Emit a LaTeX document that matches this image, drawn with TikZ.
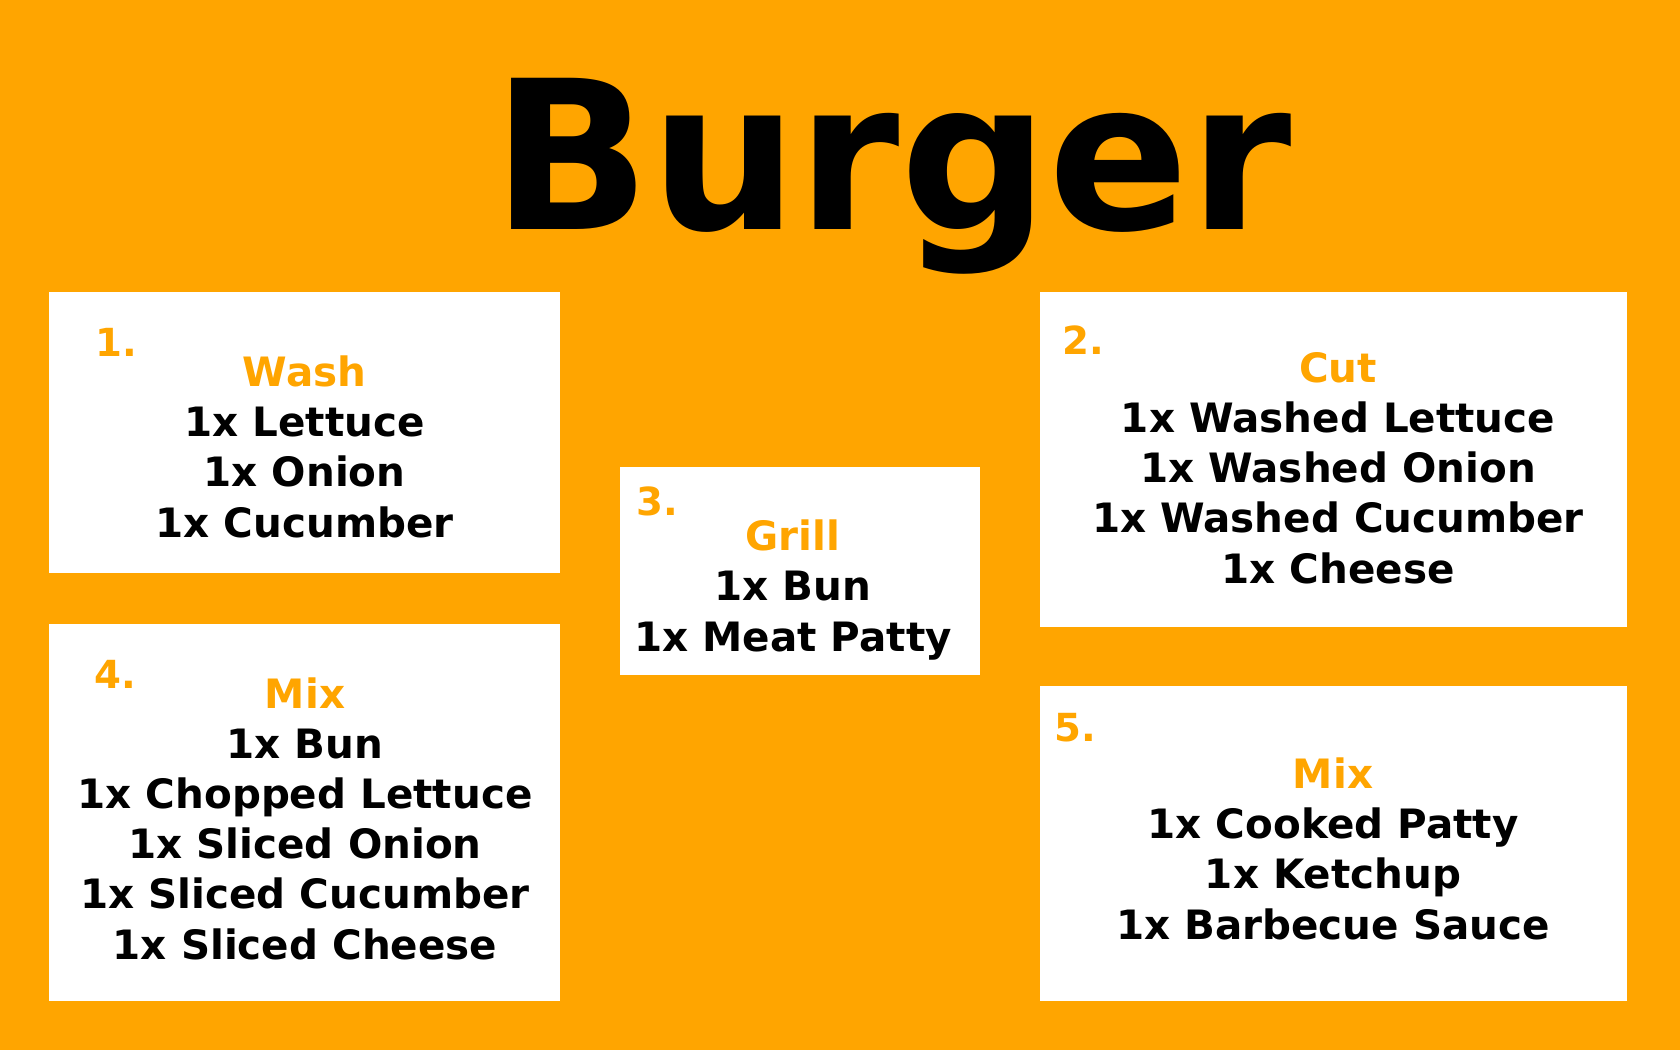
\documentclass[tikz,border=0pt]{standalone}
\usepackage{fontspec}
\setmainfont{DejaVu Sans}
\usetikzlibrary{positioning}
\definecolor{burgerorange}{RGB}{255,165,0}

\begin{document}
\begin{tikzpicture}[x=0.01cm, y=-0.01cm,
  card/.style={rectangle, fill=white, inner sep=0pt},
  num/.style={anchor=base west, inner sep=0pt, text=burgerorange,
    font=\bfseries\fontsize{11}{13}\selectfont},
  recipe/.style={anchor=base, inner sep=0pt, align=center,
    font=\bfseries\fontsize{11.5}{14.23}\selectfont}]

  \fill[burgerorange] (0,0) rectangle (1680,1050);
  \useasboundingbox (0,0) rectangle (1680,1050);

  \node[anchor=base, inner sep=0pt, font=\bfseries\fontsize{59}{60}\selectfont]
    (title) at (892,229) {Burger};

  % cards
  \node[card, minimum width=5.11cm, minimum height=2.81cm] (c1) at (304.5,432.5) {};
  \node[card, minimum width=5.87cm, minimum height=3.35cm] (c2) at (1333.5,459.5) {};
  \node[card, minimum width=3.60cm, minimum height=2.08cm] (c3) at (800,571) {};
  \node[card, minimum width=5.11cm, minimum height=3.77cm] (c4) at (304.5,812.5) {};
  \node[card, minimum width=5.87cm, minimum height=3.15cm] (c5) at (1333.5,843.5) {};

  \node[num] (n1) at (95,356)   {1.};
  \node[num] (n2) at (1062,354) {2.};
  \node[num] (n3) at (636,515)  {3.};
  \node[num] (n4) at (94,688)   {4.};
  \node[num] (n5) at (1054,741) {5.};

  % base anchor sits on the last line
  \node[recipe] (r1) at (304.5,537) {\textcolor{burgerorange}{Wash}\\1x Lettuce\\1x Onion\\1x Cucumber};
  \node[recipe] (r2) at (1338,583) {\textcolor{burgerorange}{Cut}\\1x Washed Lettuce\\1x Washed Onion\\1x Washed Cucumber\\1x Cheese};
  \node[recipe] (r3) at (793,651) {\textcolor{burgerorange}{Grill}\\1x Bun\\1x Meat Patty};
  \node[recipe] (r4) at (305,959) {\textcolor{burgerorange}{Mix}\\1x Bun\\1x Chopped Lettuce\\1x Sliced Onion\\1x Sliced Cucumber\\1x Sliced Cheese};
  \node[recipe] (r5) at (1333,939) {\textcolor{burgerorange}{Mix}\\1x Cooked Patty\\1x Ketchup\\1x Barbecue Sauce};
\end{tikzpicture}
\end{document}
